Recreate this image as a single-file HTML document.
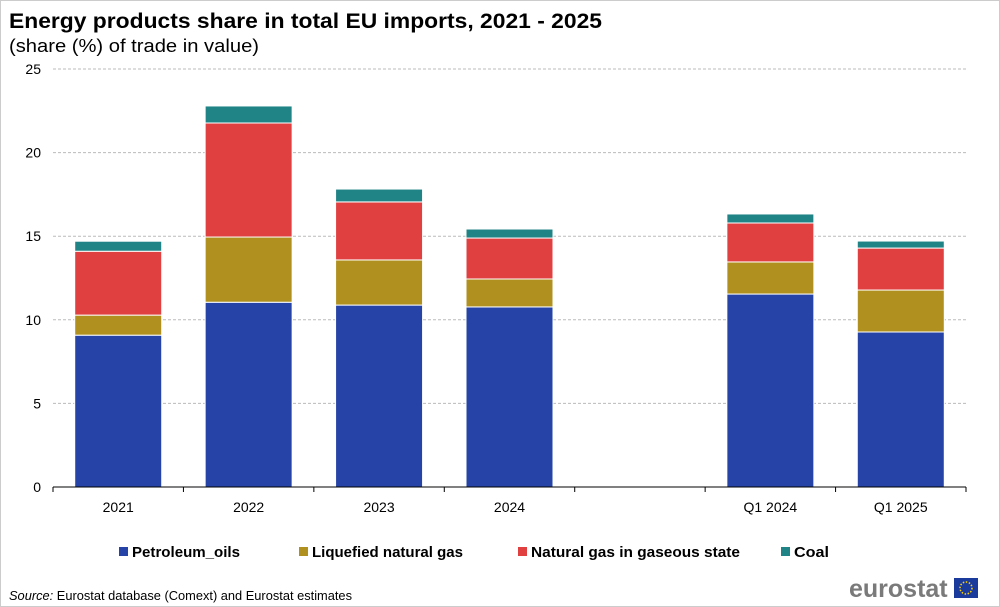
<!DOCTYPE html>
<html><head><meta charset="utf-8"><style>
body{margin:0;background:#fff;font-family:"Liberation Sans",Arial,sans-serif}
#c{position:relative;width:1000px;height:607px;border:1px solid #ccc;box-sizing:border-box;overflow:hidden}
</style></head><body>
<div id="c">
<svg id="s" width="1000" height="607" xmlns="http://www.w3.org/2000/svg">
<text x="8" y="27" font-size="21" font-weight="bold" fill="#000" textLength="593" lengthAdjust="spacingAndGlyphs">Energy products share in total EU imports, 2021 - 2025</text>
<text x="8" y="51" font-size="18" fill="#000" textLength="250" lengthAdjust="spacingAndGlyphs">(share (%) of trade in value)</text>
<g id="grid"></g><g id="bars"></g><g id="axes"></g>
<g id="legend"></g>
<text x="8" y="599" font-size="12.5" fill="#000" textLength="343" lengthAdjust="spacingAndGlyphs"><tspan font-style="italic">Source:</tspan> Eurostat database (Comext) and Eurostat estimates</text>
<text x="848" y="596" font-size="25" font-weight="bold" fill="#7a7a7a">eurostat</text>
<rect x="953" y="577" width="24" height="20" fill="#1a3a9c"/>
<circle cx="965" cy="587" r="6" fill="none" stroke="#ffd400" stroke-width="1.5" stroke-dasharray="1.5 1.6"/>
</svg>
</div>
<script>
const categories=["2021","2022","2023","2024","","Q1 2024","Q1 2025"];
const petroleum=[9.08,11.05,10.88,10.77,null,11.54,9.27];
const lng=[1.2,3.9,2.7,1.67,null,1.92,2.51];
const gas=[3.82,6.82,3.47,2.45,null,2.33,2.51];
const coal=[0.6,1.02,0.77,0.54,null,0.54,0.42];
const yTicks=[0,5,10,15,20,25];
const seriesNames=["Petroleum_oils","Liquefied natural gas","Natural gas in gaseous state","Coal"];
const colors=["#2644A7","#B09120","#E04040","#208486"];
const NS="http://www.w3.org/2000/svg";
const x0=52,x1=965,yTop=68,yBot=486,yMax=25;
const slot=(x1-x0)/categories.length,bw=87;
const y=v=>yBot-(v/yMax)*(yBot-yTop);
const xc=i=>x0+slot*(i+0.5);
function mk(t,a,p){const e=document.createElementNS(NS,t);for(const k in a)e.setAttribute(k,a[k]);p.appendChild(e);return e;}
const g=document.getElementById('grid'),b=document.getElementById('bars'),ax=document.getElementById('axes'),lg=document.getElementById('legend');
yTicks.forEach(t=>{
 if(t>0){const l=mk('line',{x1:x0,x2:x1,y1:y(t),y2:y(t),stroke:'#bbb','stroke-dasharray':'3 2'},g);
 
 }
 const tx=mk('text',{x:x0-12,y:y(t)+5,'font-size':14,'text-anchor':'end',fill:'#000'},ax);tx.textContent=t;
 
 
});
const al=mk('line',{x1:x0,x2:x1,y1:yBot,y2:yBot,stroke:'#000'},ax);


for(let i=0;i<=categories.length;i++){const tk=mk('line',{x1:x0+slot*i,x2:x0+slot*i,y1:yBot,y2:yBot+5,stroke:'#000'},ax);
 
 }
const data=[petroleum,lng,gas,coal];
categories.forEach((c,i)=>{
 if(c){const tx=mk('text',{x:xc(i),y:yBot+25,'font-size':14,'text-anchor':'middle',fill:'#000'},ax);tx.textContent=c;
 
 }
 let acc=0;
 data.forEach((s,j)=>{const v=s[i];if(v==null)return;
  const r=mk('rect',{x:xc(i)-bw/2,y:y(acc+v),width:bw,height:y(acc)-y(acc+v),fill:colors[j],stroke:'#fff','stroke-width':1},b);
  
  
  acc+=v;});
});
const lx=[118,298,517,780];
const lw=[108,151,209,35];
seriesNames.forEach((n,j)=>{
 const r=mk('rect',{x:lx[j],y:546,width:9,height:9,fill:colors[j]},lg);
 
 
 const t=mk('text',{x:lx[j]+13,y:556,'font-size':14.5,'font-weight':'bold',fill:'#000',textLength:lw[j],lengthAdjust:'spacingAndGlyphs'},lg);t.textContent=n;
 
 
});
</script>
</body></html>
